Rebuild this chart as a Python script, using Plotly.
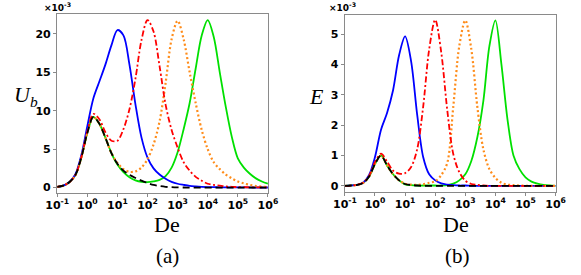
import plotly.graph_objects as go

# log10(De) sample positions (shared grid)
log_de = [-1.0, -0.8, -0.6, -0.4, -0.2, 0.0, 0.2, 0.4, 0.6, 0.8, 1.0, 1.2, 1.4, 1.6, 1.8,
          2.0, 2.2, 2.4, 2.6, 2.8, 3.0, 3.2, 3.4, 3.6, 3.8, 4.0, 4.2, 4.4, 4.6, 4.8,
          5.0, 5.2, 5.4, 5.6, 5.8, 6.0]

# ---- panel (a): U_b (x1e-3)
ub_black = [0.1, 0.25, 0.7, 1.6, 3.9, 7.1, 9.2, 8.3, 6.5, 4.5, 3.1, 2.2, 1.65, 1.25, 0.9,
            0.6, 0.35, 0.2, 0.1, 0.05, 0.02, 0.01, 0.0, 0.0, 0.0, 0.0, 0.0, 0.0, 0.0, 0.0,
            0.0, 0.0, 0.0, 0.0, 0.0, 0.0]
ub_blue = [0.1, 0.25, 0.7, 1.7, 4.2, 8.0, 11.6, 13.8, 16.0, 18.5, 20.5, 19.8, 16.0, 10.8, 6.5,
           3.9, 2.5, 1.7, 1.15, 0.75, 0.5, 0.35, 0.22, 0.15, 0.1, 0.07, 0.05, 0.04, 0.03, 0.03,
           0.02, 0.02, 0.02, 0.01, 0.01, 0.01]
ub_red = [0.1, 0.25, 0.7, 1.6, 3.9, 7.3, 9.6, 8.9, 7.2, 6.1, 6.1, 7.6, 10.2, 14.2, 19.2,
          21.8, 20.3, 15.8, 10.8, 7.5, 5.2, 3.3, 2.2, 1.4, 0.9, 0.5, 0.35, 0.25, 0.15, 0.1,
          0.06, 0.05, 0.04, 0.03, 0.02, 0.02]
ub_orange = [0.1, 0.25, 0.7, 1.6, 3.9, 7.1, 9.2, 8.3, 6.5, 4.5, 3.2, 2.4, 2.05, 2.1, 2.6,
             3.7, 5.6, 8.6, 13.6, 19.3, 21.7, 19.3, 15.0, 11.0, 7.5, 5.0, 3.3, 2.4, 1.7, 1.2,
             0.8, 0.55, 0.35, 0.2, 0.12, 0.08]
ub_green = [0.1, 0.25, 0.7, 1.6, 3.9, 7.1, 9.2, 8.3, 6.5, 4.5, 3.0, 2.0, 1.35, 0.95, 0.75,
            0.7, 0.8, 1.0, 1.5, 2.6, 4.6, 7.6, 11.0, 15.5, 19.8, 21.8, 19.6, 15.0, 10.5, 6.6,
            3.8, 2.6, 1.8, 1.2, 0.8, 0.5]

# ---- panel (b): E (x1e-3)
e_black = [0.0, 0.01, 0.03, 0.09, 0.3, 0.72, 1.0, 0.67, 0.38, 0.18, 0.06, 0.03, 0.01, 0.0, 0.0,
           0.0, 0.0, 0.0, 0.0, 0.0, 0.0, 0.0, 0.0, 0.0, 0.0, 0.0, 0.0, 0.0, 0.0, 0.0,
           0.0, 0.0, 0.0, 0.0, 0.0, 0.0]
e_blue = [0.0, 0.01, 0.03, 0.1, 0.35, 0.95, 1.85, 2.4, 3.15, 4.3, 4.92, 4.1, 2.35, 0.95, 0.38,
          0.18, 0.08, 0.04, 0.02, 0.01, 0.01, 0.0, 0.0, 0.0, 0.0, 0.0, 0.0, 0.0, 0.0, 0.0,
          0.0, 0.0, 0.0, 0.0, 0.0, 0.0]
e_red = [0.0, 0.01, 0.03, 0.1, 0.32, 0.78, 1.06, 0.8, 0.5, 0.4, 0.42, 0.62, 1.2, 2.6, 4.5,
         5.47, 4.4, 2.5, 1.05, 0.45, 0.17, 0.06, 0.03, 0.01, 0.0, 0.0, 0.0, 0.0, 0.0, 0.0,
         0.0, 0.0, 0.0, 0.0, 0.0, 0.0]
e_orange = [0.0, 0.01, 0.03, 0.09, 0.3, 0.72, 1.0, 0.67, 0.38, 0.18, 0.07, 0.04, 0.03, 0.05, 0.1,
            0.15, 0.35, 0.75, 2.6, 4.6, 5.45, 4.5, 2.6, 1.2, 0.55, 0.26, 0.1, 0.04, 0.02, 0.01,
            0.0, 0.0, 0.0, 0.0, 0.0, 0.0]
e_green = [0.0, 0.01, 0.03, 0.09, 0.3, 0.72, 1.0, 0.67, 0.38, 0.18, 0.05, 0.02, 0.01, 0.01, 0.01,
           0.01, 0.01, 0.02, 0.07, 0.18, 0.38, 0.82, 1.6, 2.8, 4.6, 5.45, 4.0, 2.2, 1.0, 0.55,
           0.28, 0.14, 0.07, 0.03, 0.01, 0.0]

x_tick_exp = [-1, 0, 1, 2, 3, 4, 5, 6]
ya_ticks = [0, 5, 10, 15, 20]
yb_ticks = [0, 1, 2, 3, 4, 5]

de = [10 ** v for v in log_de]

BLUE = "#0000ff"
RED = "#ff0000"
ORANGE = "#ff8c1a"
GREEN = "#00e000"
BLACK = "#000000"

fig = go.Figure()

def add(series, color, dash, xa, ya, width=1.8):
    fig.add_trace(go.Scatter(
        x=de, y=series, mode="lines", xaxis=xa, yaxis=ya,
        line=dict(color=color, width=width, dash=dash, shape="spline", smoothing=0.9),
        showlegend=False, hoverinfo="skip"))

for xa, ya, s in [("x", "y", [ub_green, ub_blue, ub_orange, ub_red, ub_black]),
                  ("x2", "y2", [e_green, e_blue, e_orange, e_red, e_black])]:
    add(s[0], GREEN, "solid", xa, ya)
    add(s[1], BLUE, "solid", xa, ya)
    add(s[2], ORANGE, "2px,2.5px", xa, ya, 2.2)
    add(s[3], RED, "6px,2.5px,2px,2.5px", xa, ya)
    add(s[4], BLACK, "7px,4px", xa, ya)

SANS = "DejaVu Sans, Liberation Sans, Arial, sans-serif"
tickfont = dict(family=SANS, size=11, color="#000", weight="bold")
frame = dict(showline=True, mirror=True, linecolor="#8a8a8a", linewidth=1.3,
             ticks="outside", ticklen=3, tickcolor="#8a8a8a", tickwidth=1,
             showgrid=False, zeroline=False, tickfont=tickfont)

xticktext = ["<b>10<sup>%d</sup></b>" % e for e in x_tick_exp]
xtickvals = [10 ** e for e in x_tick_exp]

W, H = 581, 275
fig.update_layout(
    width=W, height=H, margin=dict(l=0, r=0, t=0, b=0),
    paper_bgcolor="white", plot_bgcolor="white",
    xaxis=dict(type="log", range=[-1, 6], domain=[47 / W, 266 / W], anchor="y",
               tickvals=xtickvals, ticktext=xticktext, ticklabelstandoff=-1, **frame),
    yaxis=dict(range=[-0.65, 22.6], domain=[1 - 194 / H, 1 - 14 / H], anchor="x",
               tickvals=ya_ticks, ticktext=["<b>%d</b>" % v for v in ya_ticks], **frame),
    xaxis2=dict(type="log", range=[-1, 6], domain=[346 / W, 565 / W], anchor="y2",
                tickvals=xtickvals, ticktext=xticktext, ticklabelstandoff=-1, **frame),
    yaxis2=dict(range=[-0.19, 5.63], domain=[1 - 193 / H, 1 - 15 / H], anchor="x2",
                tickvals=yb_ticks, ticktext=["<b>%d</b>" % v for v in yb_ticks], **frame),
)

serif = "Liberation Serif, Times New Roman, serif"
ann = [
    dict(text="De", x=161, y=226, size=22, family=serif),
    dict(text="De", x=461, y=226, size=22, family=serif),
    dict(text="(a)", x=162, y=258, size=21, family=serif),
    dict(text="(b)", x=463, y=258, size=21, family=serif),
    dict(text="<i>U</i><sub><i>b</i></sub>", x=15, y=97, size=22, family=serif),
    dict(text="<i>E</i>", x=316, y=97, size=22, family=serif),
    dict(text="<b>×10<sup>-3</sup></b>", x=47, y=7, size=9, family=SANS),
    dict(text="<b>×10<sup>-3</sup></b>", x=343, y=7, size=9, family=SANS),
]
for a in ann:
    fig.add_annotation(text=a["text"], x=a["x"] / W, y=1 - a["y"] / H, xref="paper", yref="paper",
                       showarrow=False, xanchor="center", yanchor="middle",
                       font=dict(size=a["size"], family=a["family"], color="black"))

fig.write_html("out.html",
               config={"displayModeBar": False, "staticPlot": True},
               post_script="document.body.style.margin='0px';document.body.style.padding='0px';"
                           "document.body.style.overflow='hidden';")
